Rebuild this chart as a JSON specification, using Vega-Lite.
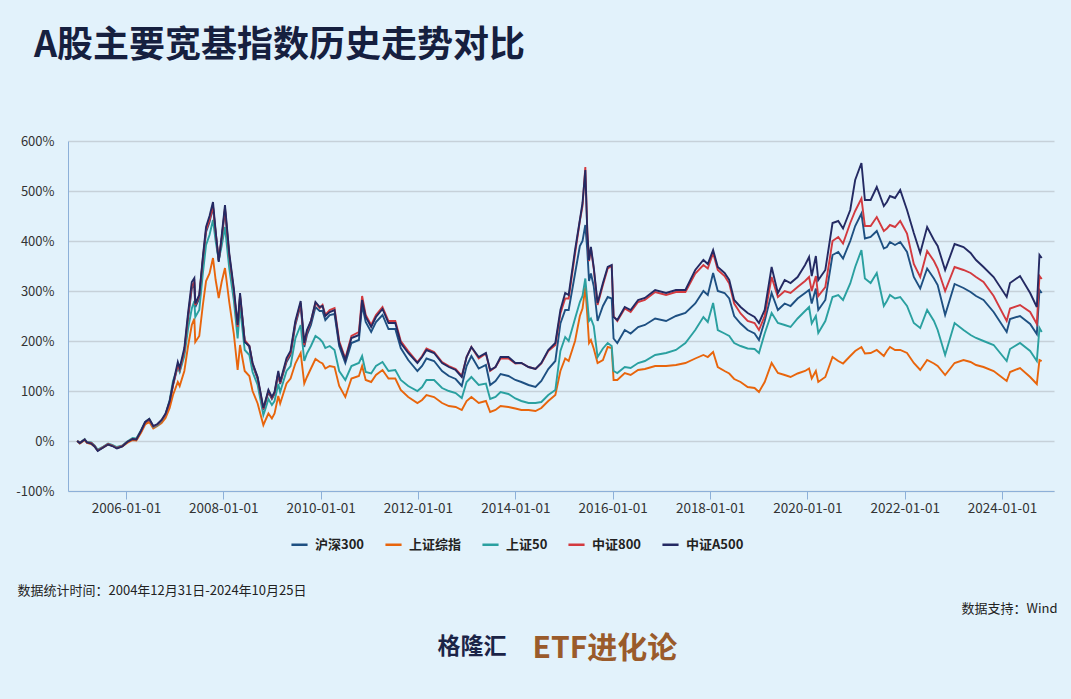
{
 "$schema": "https://vega.github.io/schema/vega-lite/v6.json",
 "width": 986,
 "height": 350,
 "autosize": {"type": "none"},
 "padding": {"left": 68, "top": 141, "right": 17, "bottom": 208},
 "background": "#e2f2fb",
 "config": {"font": "Noto Sans CJK SC", "view": {"stroke": null}},
 "title": {"text": "A股主要宽基指数历史走势对比", "anchor": "start", "frame": "group", "dx": -34, "offset": 70, "fontSize": 36, "fontWeight": "bold", "color": "#16203f"},
 "data": {"values": [
  {"date":"2004-12-31","沪深300":0,"上证综指":0,"上证50":0,"中证800":0,"中证A500":0},
  {"date":"2005-01-20","沪深300":-4,"上证综指":-5,"上证50":-4,"中证800":-4,"中证A500":-4},
  {"date":"2005-02-25","沪深300":3,"上证综指":2,"上证50":4,"中证800":3,"中证A500":3},
  {"date":"2005-03-15","沪深300":-3,"上证综指":-4,"上证50":-2,"中证800":-3,"中证A500":-3},
  {"date":"2005-04-15","沪深300":-4,"上证综指":-6,"上证50":-3,"中证800":-4,"中证A500":-5},
  {"date":"2005-05-10","沪深300":-10,"上证综指":-11,"上证50":-9,"中证800":-10,"中证A500":-11},
  {"date":"2005-06-03","沪深300":-19,"上证综指":-18,"上证50":-17,"中证800":-19,"中证A500":-20},
  {"date":"2005-07-15","沪深300":-12,"上证综指":-13,"上证50":-11,"中证800":-12,"中证A500":-13},
  {"date":"2005-08-20","沪深300":-6,"上证综指":-7,"上证50":-5,"中证800":-6,"中证A500":-7},
  {"date":"2005-09-20","沪深300":-9,"上证综指":-9,"上证50":-8,"中证800":-9,"中证A500":-10},
  {"date":"2005-10-25","沪深300":-14,"上证综指":-14,"上证50":-12,"中证800":-14,"中证A500":-15},
  {"date":"2005-12-05","沪深300":-10,"上证综指":-11,"上证50":-9,"中证800":-10,"中证A500":-11},
  {"date":"2006-01-10","沪深300":-2,"上证综指":-4,"上证50":-1,"中证800":-2,"中证A500":-2},
  {"date":"2006-02-20","沪深300":4,"上证综指":2,"上证50":6,"中证800":4,"中证A500":4},
  {"date":"2006-03-20","沪深300":3,"上证综指":1,"上证50":5,"中证800":3,"中证A500":3},
  {"date":"2006-04-25","沪深300":20,"上证综指":17,"上证50":22,"中证800":20,"中证A500":21},
  {"date":"2006-05-25","沪深300":36,"上证综指":33,"上证50":38,"中证800":37,"中证A500":38},
  {"date":"2006-06-25","沪深300":42,"上证综指":38,"上证50":44,"中证800":43,"中证A500":44},
  {"date":"2006-07-25","沪深300":28,"上证综指":25,"上证50":28,"中证800":29,"中证A500":30},
  {"date":"2006-08-25","沪深300":32,"上证综指":30,"上证50":31,"中证800":33,"中证A500":34},
  {"date":"2006-09-25","沪深300":40,"上证综指":36,"上证50":40,"中证800":41,"中证A500":42},
  {"date":"2006-10-25","沪深300":52,"上证综指":46,"上证50":53,"中证800":53,"中证A500":55},
  {"date":"2006-11-25","沪深300":78,"上证综指":66,"上证50":82,"中证800":78,"中证A500":80},
  {"date":"2006-12-20","沪深300":112,"上证综指":92,"上证50":120,"中证800":112,"中证A500":114},
  {"date":"2007-01-25","沪深300":150,"上证综指":118,"上证50":148,"中证800":152,"中证A500":158},
  {"date":"2007-02-08","沪深300":140,"上证综指":110,"上证50":138,"中证800":142,"中证A500":146},
  {"date":"2007-03-15","沪深300":178,"上证综指":140,"上证50":170,"中证800":180,"中证A500":186},
  {"date":"2007-04-12","沪深300":245,"上证综指":190,"上证50":225,"中证800":250,"中证A500":256},
  {"date":"2007-05-10","沪深300":305,"上证综指":232,"上证50":265,"中证800":310,"中证A500":318},
  {"date":"2007-05-29","沪深300":312,"上证综指":245,"上证50":280,"中证800":318,"中证A500":326},
  {"date":"2007-06-05","沪深300":268,"上证综指":198,"上证50":248,"中证800":272,"中证A500":275},
  {"date":"2007-07-05","沪深300":285,"上证综指":210,"上证50":262,"中证800":290,"中证A500":292},
  {"date":"2007-08-01","沪深300":360,"上证综指":272,"上证50":335,"中证800":365,"中证A500":368},
  {"date":"2007-08-25","沪深300":418,"上证综指":320,"上证50":392,"中证800":422,"中证A500":428},
  {"date":"2007-09-20","沪深300":438,"上证综指":335,"上证50":412,"中证800":442,"中证A500":450},
  {"date":"2007-10-16","沪深300":468,"上证综指":366,"上证50":442,"中证800":470,"中证A500":478},
  {"date":"2007-11-05","沪深300":415,"上证综指":322,"上证50":400,"中证800":418,"中证A500":420},
  {"date":"2007-11-28","沪深300":360,"上证综指":286,"上证50":362,"中证800":362,"中证A500":358},
  {"date":"2007-12-20","沪深300":402,"上证综指":318,"上证50":390,"中证800":405,"中证A500":410},
  {"date":"2008-01-14","沪深300":462,"上证综指":346,"上证50":428,"中证800":466,"中证A500":472},
  {"date":"2008-02-15","沪深300":368,"上证综指":278,"上证50":345,"中证800":372,"中证A500":376},
  {"date":"2008-03-20","沪深300":298,"上证综指":215,"上证50":282,"中证800":302,"中证A500":306},
  {"date":"2008-04-18","沪深300":226,"上证综指":142,"上证50":205,"中证800":228,"中证A500":232},
  {"date":"2008-05-06","沪深300":288,"上证综指":192,"上证50":268,"中证800":292,"中证A500":296},
  {"date":"2008-06-10","沪深300":200,"上证综指":140,"上证50":182,"中证800":202,"中证A500":198},
  {"date":"2008-07-15","沪深300":188,"上证综指":130,"上证50":172,"中证800":190,"中证A500":190},
  {"date":"2008-08-08","沪深300":152,"上证综指":100,"上证50":138,"中证800":155,"中证A500":156},
  {"date":"2008-09-15","沪深300":124,"上证综指":75,"上证50":112,"中证800":126,"中证A500":128},
  {"date":"2008-10-28","沪深300":62,"上证综指":32,"上证50":52,"中证800":64,"中证A500":66},
  {"date":"2008-11-10","沪深300":74,"上证综指":40,"上证50":62,"中证800":76,"中证A500":78},
  {"date":"2008-12-05","沪深300":98,"上证综指":55,"上证50":84,"中证800":100,"中证A500":102},
  {"date":"2008-12-31","沪深300":84,"上证综指":45,"上证50":72,"中证800":86,"中证A500":88},
  {"date":"2009-01-20","沪深300":94,"上证综指":55,"上证50":80,"中证800":96,"中证A500":98},
  {"date":"2009-02-17","沪深300":134,"上证综指":90,"上证50":114,"中证800":136,"中证A500":140},
  {"date":"2009-03-03","沪深300":114,"上证综指":75,"上证50":98,"中证800":116,"中证A500":118},
  {"date":"2009-04-20","沪深300":158,"上证综指":115,"上证50":140,"中证800":162,"中证A500":166},
  {"date":"2009-05-20","沪深300":172,"上证综指":125,"上证50":150,"中证800":176,"中证A500":180},
  {"date":"2009-06-25","沪深300":232,"上证综指":155,"上证50":205,"中证800":236,"中证A500":240},
  {"date":"2009-08-04","沪深300":272,"上证综指":176,"上证50":232,"中证800":276,"中证A500":280},
  {"date":"2009-08-31","沪深300":188,"上证综指":115,"上证50":160,"中证800":192,"中证A500":196},
  {"date":"2009-09-20","沪深300":212,"上证综指":128,"上证50":175,"中证800":218,"中证A500":222},
  {"date":"2009-10-20","沪深300":232,"上证综指":145,"上证50":190,"中证800":240,"中证A500":240},
  {"date":"2009-11-23","沪深300":268,"上证综指":164,"上证50":210,"中证800":276,"中证A500":278},
  {"date":"2009-12-25","沪深300":260,"上证综指":158,"上证50":204,"中证800":266,"中证A500":268},
  {"date":"2010-01-15","沪深300":260,"上证综指":155,"上证50":198,"中证800":272,"中证A500":270},
  {"date":"2010-02-05","沪深300":242,"上证综指":145,"上证50":186,"中证800":252,"中证A500":250},
  {"date":"2010-03-10","沪深300":252,"上证综指":150,"上证50":190,"中证800":262,"中证A500":258},
  {"date":"2010-04-15","沪深300":254,"上证综指":148,"上证50":182,"中证800":266,"中证A500":262},
  {"date":"2010-05-20","沪深300":190,"上证综指":110,"上证50":140,"中证800":200,"中证A500":196},
  {"date":"2010-07-05","沪深300":156,"上证综指":88,"上证50":122,"中证800":165,"中证A500":162},
  {"date":"2010-08-20","沪深300":196,"上证综指":125,"上证50":150,"中证800":210,"中证A500":206},
  {"date":"2010-10-15","沪深300":202,"上证综指":130,"上证50":156,"中证800":218,"中证A500":212},
  {"date":"2010-11-08","沪深300":272,"上证综指":150,"上证50":170,"中证800":290,"中证A500":282},
  {"date":"2010-12-05","沪深300":238,"上证综指":122,"上证50":138,"中证800":252,"中证A500":248},
  {"date":"2011-01-15","沪深300":218,"上证综指":118,"上证50":135,"中证800":232,"中证A500":228},
  {"date":"2011-02-20","沪深300":238,"上证综指":132,"上证50":150,"中证800":252,"中证A500":248},
  {"date":"2011-04-10","沪深300":252,"上证综指":142,"上证50":158,"中证800":268,"中证A500":264},
  {"date":"2011-05-25","沪深300":224,"上证综指":125,"上证50":140,"中证800":240,"中证A500":236},
  {"date":"2011-07-15","沪深300":224,"上证综指":125,"上证50":142,"中证800":240,"中证A500":236},
  {"date":"2011-08-25","沪深300":186,"上证综指":102,"上证50":122,"中证800":200,"中证A500":196},
  {"date":"2011-10-20","沪深300":162,"上证综指":88,"上证50":110,"中证800":180,"中证A500":176},
  {"date":"2011-12-28","沪深300":140,"上证综指":76,"上证50":100,"中证800":158,"中证A500":156},
  {"date":"2012-02-01","沪深300":150,"上证综指":82,"上证50":108,"中证800":170,"中证A500":168},
  {"date":"2012-03-05","沪深300":165,"上证综指":92,"上证50":122,"中证800":185,"中证A500":182},
  {"date":"2012-05-01","沪深300":160,"上证综指":88,"上证50":122,"中证800":178,"中证A500":176},
  {"date":"2012-06-30","沪深300":140,"上证综指":76,"上证50":106,"中证800":158,"中证A500":156},
  {"date":"2012-08-20","沪深300":130,"上证综指":70,"上证50":100,"中证800":150,"中证A500":148},
  {"date":"2012-10-10","沪深300":124,"上证综指":68,"上证50":96,"中证800":144,"中证A500":142},
  {"date":"2012-11-25","沪深300":110,"上证综指":62,"上证50":86,"中证800":130,"中证A500":128},
  {"date":"2012-12-31","沪深300":150,"上证综指":80,"上证50":118,"中证800":168,"中证A500":168},
  {"date":"2013-02-05","沪深300":170,"上证综指":88,"上证50":128,"中证800":188,"中证A500":188},
  {"date":"2013-04-01","沪深300":145,"上证综指":76,"上证50":112,"中证800":165,"中证A500":168},
  {"date":"2013-05-25","沪深300":152,"上证综指":80,"上证50":115,"中证800":175,"中证A500":176},
  {"date":"2013-06-26","沪深300":112,"上证综指":58,"上证50":84,"中证800":140,"中证A500":142},
  {"date":"2013-08-05","沪深300":120,"上证综指":62,"上证50":88,"中证800":148,"中证A500":148},
  {"date":"2013-09-12","沪深300":134,"上证综指":70,"上证50":98,"中证800":165,"中证A500":168},
  {"date":"2013-11-10","沪深300":130,"上证综指":68,"上证50":94,"中证800":165,"中证A500":168},
  {"date":"2014-01-01","沪深300":122,"上证综指":65,"上证50":85,"中证800":155,"中证A500":156},
  {"date":"2014-02-15","沪深300":118,"上证综指":62,"上证50":80,"中证800":156,"中证A500":156},
  {"date":"2014-04-10","沪深300":112,"上证综指":62,"上证50":76,"中证800":148,"中证A500":148},
  {"date":"2014-06-01","沪深300":108,"上证综指":60,"上证50":76,"中证800":144,"中证A500":144},
  {"date":"2014-07-15","沪深300":120,"上证综指":66,"上证50":78,"中证800":155,"中证A500":156},
  {"date":"2014-09-05","沪深300":144,"上证综指":80,"上证50":92,"中证800":180,"中证A500":182},
  {"date":"2014-10-28","沪深300":160,"上证综指":92,"上证50":102,"中证800":192,"中证A500":196},
  {"date":"2014-12-05","沪深300":235,"上证综指":140,"上证50":180,"中证800":255,"中证A500":262},
  {"date":"2015-01-10","沪深300":262,"上证综指":165,"上证50":208,"中证800":285,"中证A500":296},
  {"date":"2015-02-05","沪深300":262,"上证综指":160,"上证50":200,"中证800":285,"中证A500":292},
  {"date":"2015-03-25","沪深300":335,"上证综指":200,"上证50":245,"中证800":375,"中证A500":382},
  {"date":"2015-04-30","沪深300":390,"上证综指":250,"上证50":278,"中证800":440,"中证A500":442},
  {"date":"2015-05-20","沪深300":400,"上证综指":265,"上证50":290,"中证800":470,"中证A500":476},
  {"date":"2015-06-10","沪深300":432,"上证综指":308,"上证50":325,"中证800":548,"中证A500":542},
  {"date":"2015-06-25","沪深300":380,"上证综指":250,"上证50":280,"中证800":420,"中证A500":416},
  {"date":"2015-07-08","沪深300":320,"上证综指":196,"上证50":240,"中证800":360,"中证A500":362},
  {"date":"2015-07-22","沪深300":335,"上证综指":202,"上证50":245,"中证800":385,"中证A500":388},
  {"date":"2015-08-12","沪深300":310,"上证综指":185,"上证50":230,"中证800":345,"中证A500":348},
  {"date":"2015-09-10","沪深300":240,"上证综指":156,"上证50":168,"中证800":272,"中证A500":276},
  {"date":"2015-10-20","沪深300":270,"上证综指":162,"上证50":185,"中证800":312,"中证A500":316},
  {"date":"2015-11-25","沪深300":288,"上证综指":188,"上证50":196,"中证800":345,"中证A500":348},
  {"date":"2015-12-25","沪深300":285,"上证综指":186,"上证50":190,"中证800":350,"中证A500":352},
  {"date":"2016-01-08","沪深300":205,"上证综指":122,"上证50":140,"中证800":250,"中证A500":248},
  {"date":"2016-02-05","沪深300":196,"上证综指":122,"上证50":136,"中证800":240,"中证A500":242},
  {"date":"2016-04-01","沪深300":222,"上证综指":136,"上证50":148,"中证800":265,"中证A500":268},
  {"date":"2016-05-15","沪深300":215,"上证综指":132,"上证50":146,"中证800":258,"中证A500":262},
  {"date":"2016-07-10","沪深300":228,"上证综指":142,"上证50":156,"中证800":278,"中证A500":282},
  {"date":"2016-08-30","沪深300":232,"上证综指":144,"上证50":160,"中证800":282,"中证A500":286},
  {"date":"2016-11-15","沪深300":245,"上证综指":150,"上证50":172,"中证800":298,"中证A500":302},
  {"date":"2017-02-05","沪深300":240,"上证综指":150,"上证50":176,"中证800":292,"中证A500":296},
  {"date":"2017-04-20","沪深300":250,"上证综指":152,"上证50":182,"中证800":298,"中证A500":302},
  {"date":"2017-06-30","沪深300":256,"上证综指":156,"上证50":196,"中证800":298,"中证A500":302},
  {"date":"2017-09-12","沪深300":275,"上证综指":165,"上证50":222,"中证800":335,"中证A500":342},
  {"date":"2017-11-12","沪深300":300,"上证综指":172,"上证50":248,"中证800":352,"中证A500":362},
  {"date":"2017-12-15","沪深300":292,"上证综指":168,"上证50":238,"中证800":345,"中证A500":354},
  {"date":"2018-01-24","沪深300":336,"上证综指":178,"上证50":276,"中证800":376,"中证A500":382},
  {"date":"2018-02-28","沪深300":300,"上证综指":148,"上证50":222,"中证800":342,"中证A500":348},
  {"date":"2018-04-20","沪深300":296,"上证综指":140,"上证50":215,"中证800":330,"中证A500":336},
  {"date":"2018-05-25","沪深300":285,"上证综指":135,"上证50":210,"中证800":315,"中证A500":322},
  {"date":"2018-07-01","沪深300":250,"上证综指":124,"上证50":196,"中证800":275,"中证A500":282},
  {"date":"2018-08-18","沪深300":235,"上证综指":118,"上证50":190,"中证800":255,"中证A500":268},
  {"date":"2018-10-10","沪深300":222,"上证综指":108,"上证50":185,"中证800":240,"中证A500":256},
  {"date":"2018-12-01","沪深300":215,"上证综指":106,"上证50":184,"中证800":236,"中证A500":248},
  {"date":"2019-01-03","沪深300":202,"上证综指":98,"上证50":176,"中证800":222,"中证A500":236},
  {"date":"2019-02-15","沪深300":240,"上证综指":118,"上证50":215,"中证800":250,"中证A500":262},
  {"date":"2019-04-08","沪深300":296,"上证综指":156,"上证50":256,"中证800":328,"中证A500":348},
  {"date":"2019-05-25","沪深300":262,"上证综指":136,"上证50":236,"中证800":288,"中证A500":296},
  {"date":"2019-07-15","沪深300":275,"上证综指":132,"上证50":232,"中证800":300,"中证A500":322},
  {"date":"2019-08-28","沪深300":270,"上证综指":128,"上证50":228,"中证800":296,"中证A500":316},
  {"date":"2019-10-20","沪深300":285,"上证综指":135,"上证50":245,"中证800":308,"中证A500":328},
  {"date":"2019-12-15","沪深300":296,"上证综指":140,"上证50":260,"中证800":320,"中证A500":352},
  {"date":"2020-01-14","沪深300":302,"上证综指":145,"上证50":268,"中证800":328,"中证A500":368},
  {"date":"2020-02-03","沪深300":275,"上证综指":125,"上证50":235,"中证800":300,"中证A500":330},
  {"date":"2020-03-05","沪深300":305,"上证综指":140,"上证50":250,"中证800":330,"中证A500":370},
  {"date":"2020-03-23","沪深300":262,"上证综指":118,"上证50":216,"中证800":290,"中证A500":322},
  {"date":"2020-05-15","沪深300":282,"上证综指":128,"上证50":240,"中证800":308,"中证A500":342},
  {"date":"2020-07-08","沪深300":372,"上证综指":168,"上证50":288,"中证800":400,"中证A500":436},
  {"date":"2020-08-20","沪深300":378,"上证综指":160,"上证50":292,"中证800":408,"中证A500":440},
  {"date":"2020-09-25","沪深300":365,"上证综指":155,"上证50":282,"中证800":395,"中证A500":425},
  {"date":"2020-11-18","沪深300":400,"上证综指":170,"上证50":315,"中证800":436,"中证A500":462},
  {"date":"2020-12-25","沪深300":430,"上证综指":180,"上证50":348,"中证800":460,"中证A500":522},
  {"date":"2021-02-10","沪深300":455,"上证综指":188,"上证50":382,"中证800":485,"中证A500":556},
  {"date":"2021-03-08","沪深300":405,"上证综指":175,"上证50":325,"中证800":430,"中证A500":482},
  {"date":"2021-04-20","沪深300":408,"上证综指":176,"上证50":316,"中证800":430,"中证A500":482},
  {"date":"2021-06-05","沪深300":420,"上证综指":182,"上证50":336,"中证800":448,"中证A500":508},
  {"date":"2021-07-28","沪深300":385,"上证综指":170,"上证50":270,"中证800":420,"中证A500":470},
  {"date":"2021-08-20","沪深300":388,"上证综指":180,"上证50":280,"中证800":425,"中证A500":478},
  {"date":"2021-09-12","沪深300":398,"上证综指":188,"上证50":292,"中证800":432,"中证A500":490},
  {"date":"2021-10-20","沪深300":392,"上证综指":182,"上证50":285,"中证800":428,"中证A500":486},
  {"date":"2021-11-28","沪深300":398,"上证综指":182,"上证50":288,"中证800":440,"中证A500":502},
  {"date":"2022-01-18","沪深300":378,"上证综指":176,"上证50":270,"中证800":415,"中证A500":462},
  {"date":"2022-03-10","沪深300":328,"上证综指":156,"上证50":236,"中证800":354,"中证A500":416},
  {"date":"2022-04-27","沪深300":305,"上证综指":142,"上证50":226,"中证800":328,"中证A500":376},
  {"date":"2022-06-18","沪深300":345,"上证综指":162,"上证50":262,"中证800":380,"中证A500":428},
  {"date":"2022-08-08","沪深300":325,"上证综指":155,"上证50":240,"中证800":360,"中证A500":402},
  {"date":"2022-09-05","沪深300":312,"上证综指":150,"上证50":222,"中证800":345,"中证A500":390},
  {"date":"2022-10-31","沪深300":252,"上证综指":132,"上证50":172,"中证800":300,"中证A500":342},
  {"date":"2023-01-10","沪深300":314,"上证综指":156,"上证50":236,"中证800":348,"中证A500":394},
  {"date":"2023-03-18","沪深300":306,"上证综指":162,"上证50":222,"中证800":342,"中证A500":388},
  {"date":"2023-05-10","沪深300":298,"上证综指":158,"上证50":212,"中证800":336,"中证A500":376},
  {"date":"2023-06-20","沪深300":290,"上证综指":152,"上证50":206,"中证800":328,"中证A500":362},
  {"date":"2023-08-15","沪深300":282,"上证综指":148,"上证50":200,"中证800":318,"中证A500":348},
  {"date":"2023-10-30","沪深300":258,"上证综指":140,"上证50":192,"中证800":290,"中证A500":328},
  {"date":"2024-02-05","沪深300":218,"上证综指":120,"上证50":160,"中证800":240,"中证A500":288},
  {"date":"2024-03-01","沪深300":244,"上证综指":138,"上证50":184,"中证800":265,"中证A500":316},
  {"date":"2024-05-15","沪深300":250,"上证综指":146,"上证50":196,"中证800":272,"中证A500":330},
  {"date":"2024-07-30","沪深300":234,"上证综指":128,"上证50":180,"中证800":258,"中证A500":296},
  {"date":"2024-09-18","沪深300":214,"上证综指":114,"上证50":160,"中证800":234,"中证A500":268},
  {"date":"2024-10-08","沪深300":302,"上证综指":162,"上证50":226,"中证800":330,"中证A500":372},
  {"date":"2024-10-25","沪深300":296,"上证综指":160,"上证50":218,"中证800":324,"中证A500":366}
 ]},
 "transform": [{"fold": ["沪深300", "上证综指", "上证50", "中证800", "中证A500"], "as": ["指数", "值"]}],
 "layer": [
  {
   "mark": {"type": "line", "strokeWidth": 1.9},
   "encoding": {
    "x": {"field": "date", "type": "temporal",
     "scale": {"domain": [{"year": 2004, "month": 10, "date": 23}, {"year": 2025, "month": 1, "date": 25}]},
     "axis": {"values": [{"year": 2006, "month": 1, "date": 1}, {"year": 2008, "month": 1, "date": 1}, {"year": 2010, "month": 1, "date": 1}, {"year": 2012, "month": 1, "date": 1}, {"year": 2014, "month": 1, "date": 1}, {"year": 2016, "month": 1, "date": 1}, {"year": 2018, "month": 1, "date": 1}, {"year": 2020, "month": 1, "date": 1}, {"year": 2022, "month": 1, "date": 1}, {"year": 2024, "month": 1, "date": 1}],
      "format": "%Y-%m-%d", "labelFontSize": 13.5, "labelColor": "#333333", "labelPadding": 2,
      "tickColor": "#8db0d8", "tickSize": 8, "domainColor": "#8db0d8", "grid": false,
      "title": "数据统计时间：2004年12月31日-2024年10月25日", "titleX": -51, "titleY": 99, "titleAlign": "left", "titleBaseline": "middle",
      "titleFontSize": 13, "titleFontWeight": "normal", "titleColor": "#222222"}},
    "y": {"field": "值", "type": "quantitative", "scale": {"domain": [-100, 600]},
     "axis": {"values": [-100, 0, 100, 200, 300, 400, 500, 600], "labelExpr": "datum.value + '%'", "ticks": false, "labelPadding": 14,
      "grid": true, "gridColor": "#c6d1d9", "gridWidth": 1.3, "domainColor": "#8db0d8", "labelColor": "#333333", "labelFontSize": 13,
      "title": "格隆汇", "titleAngle": 0, "titleX": 369, "titleY": 505, "titleAlign": "left", "titleBaseline": "middle",
      "titleFontSize": 23, "titleFontWeight": "bold", "titleColor": "#1b2447"}},
    "color": {"field": "指数", "type": "nominal",
     "scale": {"domain": ["沪深300", "上证综指", "上证50", "中证800", "中证A500"], "range": ["#1e5082", "#e8650c", "#2aa0a0", "#d33a3f", "#242a63"]},
     "legend": {"orient": "none", "legendX": 222, "legendY": 394, "direction": "horizontal", "title": null,
      "symbolType": "stroke", "symbolStrokeWidth": 2.5, "symbolSize": 260, "labelFontSize": 13, "labelFontWeight": "bold",
      "labelColor": "#222222", "columnPadding": 15, "labelOffset": 6}}
   }
  },
  {
   "mark": {"type": "line", "opacity": 0},
   "encoding": {
    "x": {"field": "date", "type": "temporal",
     "scale": {"domain": [{"year": 2004, "month": 10, "date": 23}, {"year": 2025, "month": 1, "date": 25}]},
     "axis": {"orient": "bottom", "labels": false, "ticks": false, "domain": false, "grid": false,
      "title": "ETF进化论", "titleX": 464, "titleY": 157, "titleAlign": "left", "titleBaseline": "middle",
      "titleFontSize": 30, "titleFontWeight": "bold", "titleColor": "#9a5b2b"}},
    "y": {"field": "值", "type": "quantitative", "scale": {"domain": [-100, 600]},
     "axis": {"orient": "right", "labels": false, "ticks": false, "domain": false, "grid": false,
      "title": "数据支持：Wind", "titleAngle": 0, "titleX": 3, "titleY": 467, "titleAlign": "right", "titleBaseline": "middle",
      "titleFontSize": 13, "titleFontWeight": "normal", "titleColor": "#222222"}}
   }
  }
 ],
 "resolve": {"axis": {"x": "independent", "y": "independent"}}
}
